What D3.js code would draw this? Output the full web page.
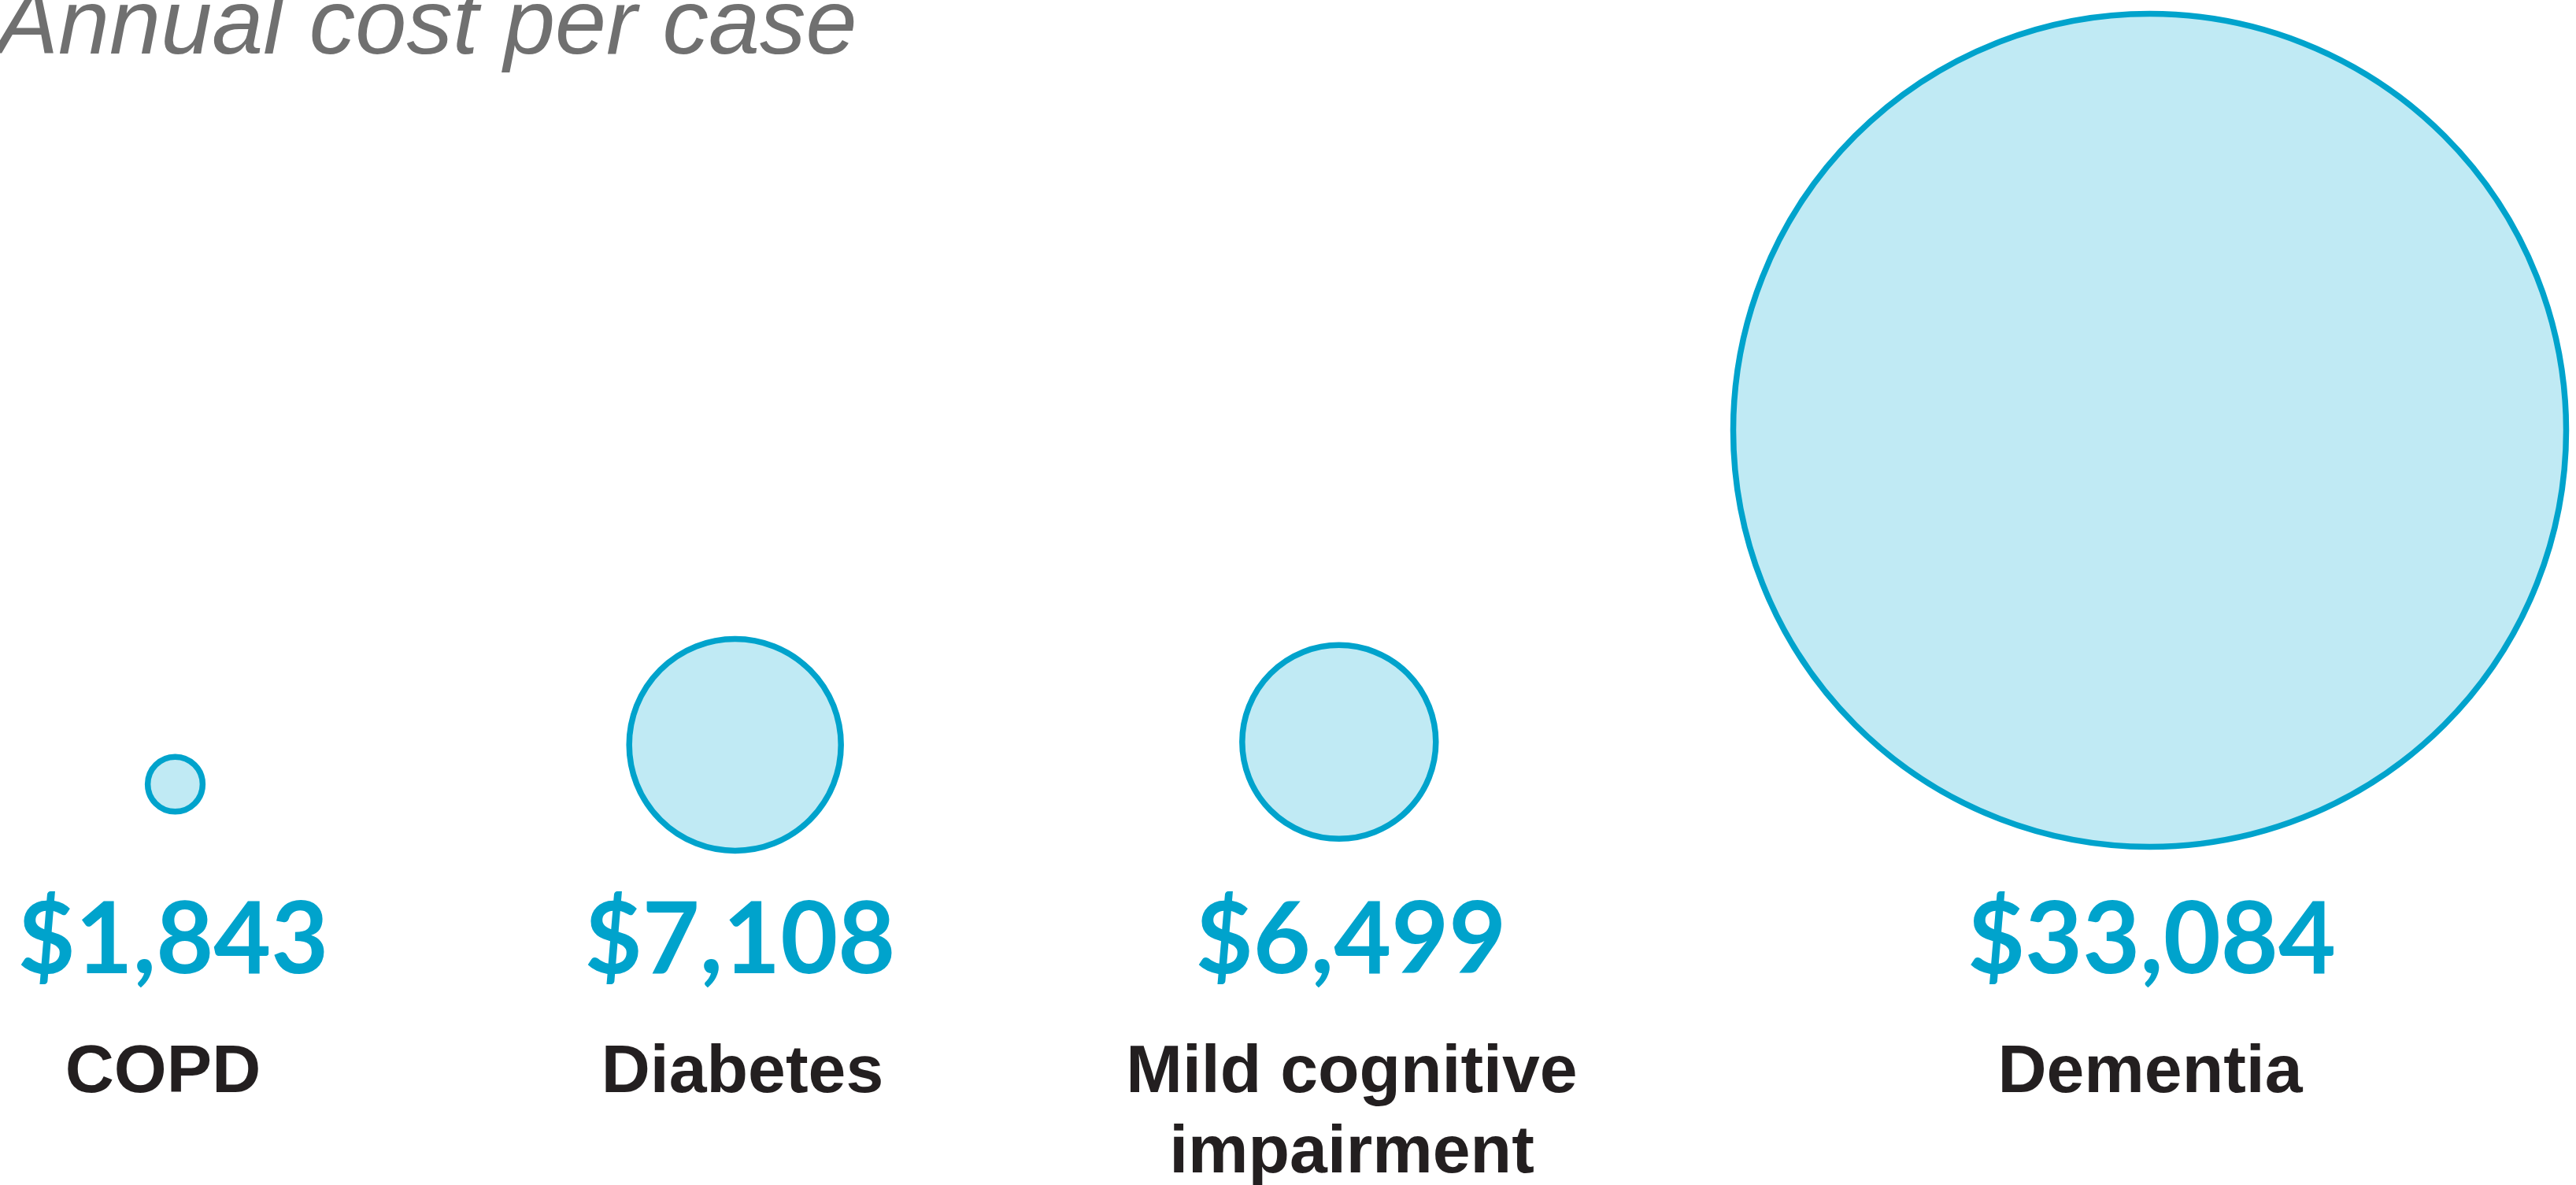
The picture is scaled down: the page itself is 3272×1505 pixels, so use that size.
<!DOCTYPE html>
<html>
<head>
<meta charset="utf-8">
<script src="https://cdn.jsdelivr.net/npm/d3@7"></script>
<style>
  html, body { margin: 0; padding: 0; background: #ffffff; }
  svg { display: block; }
</style>
</head>
<body>
<svg id="chart"></svg>
<script>
// Annual cost per case, by condition
const categories = ["COPD", "Diabetes", "Mild cognitive impairment", "Dementia"];
const costs = [1843, 7108, 6499, 33084];
const labelLines = [["COPD"], ["Diabetes"], ["Mild cognitive", "impairment"], ["Dementia"]];
const title = "Annual cost per case";

const width = 3272, height = 1505;
const strokeColor = "#00a3cc";
const fillColor = "#c0eaf4";

const svg = d3.select("#chart").attr("width", width).attr("height", height);
svg.append("rect").attr("width", width).attr("height", height).attr("fill", "#ffffff");

// Bubble radius grows with cost (piecewise linear, capped for the largest bubble)
const r = d3.scaleLinear()
  .domain([0, costs[1], d3.max(costs)])
  .range([0, 134.5, 529]);

// Column placement for bubbles and their captions
const cx = d3.scaleOrdinal().domain(categories).range([222.5, 933.7, 1700.8, 2730.5]);
const cy = d3.scaleOrdinal().domain(categories).range([996, 946, 942.3, 546.5]);
const valueX = d3.scaleOrdinal().domain(categories).range([220, 940, 1716, 2733]);
const labelX = d3.scaleOrdinal().domain(categories).range([207, 943, 1717, 2731]);

const rows = categories.map((c, i) => ({ category: c, cost: costs[i], lines: labelLines[i] }));

// Title
svg.append("text")
  .attr("x", -4)
  .attr("y", 68)
  .attr("font-family", "'Liberation Sans', Arial, sans-serif")
  .attr("font-style", "italic")
  .attr("font-size", 117)
  .attr("fill", "#707070")
  .text(title);

// Bubbles
svg.append("g").selectAll("circle")
  .data(rows)
  .join("circle")
  .attr("cx", d => cx(d.category))
  .attr("cy", d => cy(d.category))
  .attr("r", d => r(d.cost))
  .attr("fill", fillColor)
  .attr("stroke", strokeColor)
  .attr("stroke-width", 7.5);

// Cost values
const fmt = d3.format("$,");
svg.append("g").selectAll("text")
  .data(rows)
  .join("text")
  .attr("x", d => valueX(d.category))
  .attr("y", 1236)
  .attr("text-anchor", "middle")
  .attr("font-family", "Lato, 'Open Sans', sans-serif")
  .attr("font-weight", 700)
  .attr("font-size", 126)
  .attr("fill", strokeColor)
  .text(d => fmt(d.cost));

// Condition names
const labels = svg.append("g").selectAll("text")
  .data(rows)
  .join("text")
  .attr("x", d => labelX(d.category))
  .attr("y", 1387)
  .attr("text-anchor", "middle")
  .attr("font-family", "'Liberation Sans', Arial, sans-serif")
  .attr("font-weight", 700)
  .attr("font-size", 86)
  .attr("fill", "#231f20");

labels.selectAll("tspan")
  .data(d => d.lines.map(l => ({ line: l, x: labelX(d.category) })))
  .join("tspan")
  .attr("x", d => d.x)
  .attr("dy", (d, i) => i === 0 ? 0 : 102)
  .text(d => d.line);
</script>
</body>
</html>
